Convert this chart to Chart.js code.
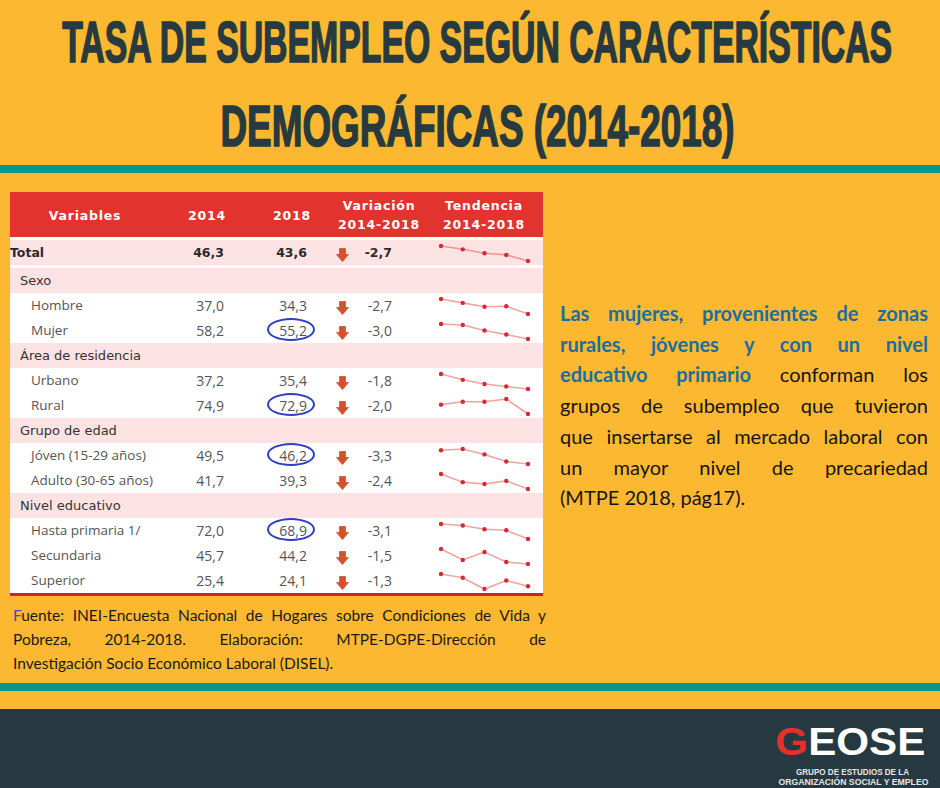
<!DOCTYPE html>
<html lang="es">
<head>
<meta charset="utf-8">
<title>Tasa de subempleo según características demográficas (2014-2018)</title>
<script src="https://cdn.jsdelivr.net/npm/chart.js@4.4.1/dist/chart.umd.min.js"></script>
<style>
  html, body { margin: 0; padding: 0; }
  body { width: 940px; height: 788px; position: relative; overflow: hidden; background: #fcb830; font-family: Lato, "Open Sans", sans-serif; }
  .abs { position: absolute; }
  .titulo { left: -993px; width: 2940px; text-align: center; font-family: "Liberation Sans Narrow", "Liberation Sans", sans-serif; font-weight: bold; font-size: 58px; line-height: 59px; color: #263a40; -webkit-text-stroke: 1.6px #263a40; white-space: nowrap; }
  .titulo span { display: inline-block; transform-origin: 50% 50%; }
  .barra { left: 0; width: 940px; height: 8px; background: #05968d; }
  #tabla { left: 10px; top: 192px; width: 533px; height: 404px; background: #fff; }
  .cab { color: #fff; font-family: "DejaVu Sans", sans-serif; font-weight: bold; font-size: 12.5px; letter-spacing: 0.8px; text-align: center; line-height: 19px; white-space: nowrap; }
  .fila { left: 0; width: 533px; height: 25px; }
  .rosa { background: #fde3e3; }
  .txt { line-height: 25px; white-space: nowrap; color: #444; }
  .grupo { font-family: "DejaVu Sans", sans-serif; font-size: 13px; color: #333; }
  .sub { font-family: "Open Sans", sans-serif; font-size: 13.5px; color: #555; }
  .num { font-family: "Open Sans", sans-serif; font-size: 14px; color: #555; text-align: right; width: 60px; }
  .total { font-family: "DejaVu Sans", sans-serif; font-weight: bold; font-size: 12.5px; color: #2a2a2a; }
  .circulo { width: 44px; height: 19px; border: 2.8px solid #2e3fc4; border-radius: 50%; }
  #texto { left: 560px; top: 298px; width: 368px; font-size: 20px; line-height: 30.7px; color: #141414; }
  #texto div, #fuente div { text-align: justify; text-align-last: justify; }
  #texto div.ult, #fuente div.ult { text-align-last: left; }
  #texto b { color: #1b6e9e; }
  #fuente { left: 13px; top: 603px; width: 533px; font-size: 15.5px; line-height: 24px; color: #1a1a1a; }
  #fuente .f { color: #3552a8; }
  #pie { left: 0; top: 709px; width: 940px; height: 79px; background: #263840; }
  .logo { font-family: "Liberation Sans", sans-serif; font-weight: bold; color: #fff; white-space: nowrap; text-align: center; }
  .logo span { display: inline-block; transform-origin: 50% 50%; }
</style>
</head>
<body>
<div class="abs titulo" style="top:12px"><span id="t1">TASA DE SUBEMPLEO SEGÚN CARACTERÍSTICAS</span></div>
<div class="abs titulo" style="top:96px"><span id="t2">DEMOGRÁFICAS (2014-2018)</span></div>
<div class="abs barra" style="top:165px"></div>

<div class="abs" id="tabla"></div>

<div class="abs" id="fuente">
  <div><span class="f">F</span>uente: INEI-Encuesta Nacional de Hogares sobre Condiciones de Vida y</div>
  <div>Pobreza, 2014-2018. Elaboración: MTPE-DGPE-Dirección de</div>
  <div class="ult">Investigación Socio Económico Laboral (DISEL).</div>
</div>

<div class="abs" id="texto">
  <div><b>Las mujeres, provenientes de zonas</b></div>
  <div><b>rurales, jóvenes y con un nivel</b></div>
  <div><b>educativo primario</b> conforman los</div>
  <div>grupos de subempleo que tuvieron</div>
  <div>que insertarse al mercado laboral con</div>
  <div>un mayor nivel de precariedad</div>
  <div class="ult">(MTPE 2018, pág17).</div>
</div>

<div class="abs barra" style="top:683px"></div>
<div class="abs" id="pie"></div>
<div class="abs logo" style="left:775px; top:722px; width:150px; font-size:39px; line-height:39px;"><span id="lg"><span style="color:#e5302a">G</span>EOSE</span></div>
<div class="abs logo" style="left:778px; top:767px; width:150px; font-size:8.5px; line-height:11px; color:#e6e6e6;"><span id="l1">GRUPO DE ESTUDIOS DE LA</span></div>
<div class="abs logo" style="left:778px; top:777px; width:150px; font-size:8.5px; line-height:11px; color:#e6e6e6;"><span id="l2">ORGANIZACIÓN SOCIAL Y EMPLEO</span></div>

<script>
const anios = ['2014', '2015', '2016', '2017', '2018'];
const grupos = ['Sexo', 'Área de residencia', 'Grupo de edad', 'Nivel educativo'];
const categorias = ['Total', 'Hombre', 'Mujer', 'Urbano', 'Rural', 'Jóven (15-29 años)', 'Adulto (30-65 años)', 'Hasta primaria 1/', 'Secundaria', 'Superior'];
const grupoDe = [-1, 0, 0, 1, 1, 2, 2, 3, 3, 3];
const tasa2014 = [46.3, 37.0, 58.2, 37.2, 74.9, 49.5, 41.7, 72.0, 45.7, 25.4];
const tasa2018 = [43.6, 34.3, 55.2, 35.4, 72.9, 46.2, 39.3, 68.9, 44.2, 24.1];
const variacion = [-2.7, -2.7, -3.0, -1.8, -2.0, -3.3, -2.4, -3.1, -1.5, -1.3];
const destacados = ['Mujer', 'Rural', 'Jóven (15-29 años)', 'Hasta primaria 1/'];

const tendTotal = [46.3, 45.7, 45.0, 44.7, 43.6];
const tendHombre = [37.0, 36.3, 35.6, 35.7, 34.3];
const tendMujer = [58.2, 58.0, 56.9, 56.1, 55.2];
const tendUrbano = [37.2, 36.5, 36.0, 35.7, 35.4];
const tendRural = [74.9, 75.5, 75.5, 76.1, 72.9];
const tendJoven = [49.5, 49.8, 48.5, 46.8, 46.2];
const tendAdulto = [41.7, 40.4, 40.1, 40.6, 39.3];
const tendPrimaria = [72.0, 71.7, 70.9, 70.7, 68.9];
const tendSecundaria = [45.7, 44.6, 45.4, 44.4, 44.2];
const tendSuperior = [25.4, 25.0, 23.8, 24.7, 24.1];
const tendencias = [tendTotal, tendHombre, tendMujer, tendUrbano, tendRural, tendJoven, tendAdulto, tendPrimaria, tendSecundaria, tendSuperior];

const tabla = document.getElementById('tabla');
const fmt = v => v.toFixed(1).replace('.', ',');

function add(cls, style, html) {
  const d = document.createElement('div');
  d.className = 'abs ' + cls;
  d.style.cssText = style;
  if (html !== undefined) d.innerHTML = html;
  tabla.appendChild(d);
  return d;
}

function flecha(top) {
  add('', `left:326px; top:${top + 6}px; width:13px; height:14px;`,
    '<svg width="13" height="14" viewBox="0 0 13 14"><path d="M3.5 0.5 H9.5 V6.5 H12.5 L6.5 13.5 L0.5 6.5 H3.5 Z" fill="#d4512b" stroke="#d4512b" stroke-width="0.8" stroke-linejoin="round"/></svg>');
}

function sparkline(serie, top) {
  const c = document.createElement('canvas');
  c.width = 97; c.height = 25;
  c.className = 'abs';
  c.style.cssText = `left:426px; top:${top}px;`;
  tabla.appendChild(c);
  new Chart(c, {
    type: 'line',
    data: {
      labels: anios,
      datasets: [{
        data: serie,
        borderColor: 'rgba(226, 74, 74, 0.5)',
        borderWidth: 1.6,
        pointRadius: 2.2,
        pointBackgroundColor: '#d42a30',
        pointBorderWidth: 0,
        tension: 0,
        clip: false
      }]
    },
    options: {
      responsive: false,
      animation: false,
      events: [],
      layout: { padding: { left: 5, right: 5, top: 6, bottom: 4 } },
      plugins: { legend: { display: false }, tooltip: { enabled: false } },
      scales: {
        x: { display: false },
        y: { display: false, min: Math.min(...serie), max: Math.max(...serie) }
      }
    }
  });
}

// cabecera
add('', 'left:0; top:0; width:533px; height:45px; background:#e2332f;');
add('cab', 'left:25px; top:14px; width:100px;', 'Variables');
add('cab', 'left:167px; top:14px; width:60px;', anios[0]);
add('cab', 'left:252px; top:14px; width:60px;', anios[4]);
add('cab', 'left:314px; top:4px; width:110px;', 'Variación<br>2014-2018');
add('cab', 'left:419px; top:4px; width:110px;', 'Tendencia<br>2014-2018');

// filas
let y = 48;
let grupoActual = -1;
categorias.forEach((cat, i) => {
  if (grupoDe[i] !== grupoActual) {
    grupoActual = grupoDe[i];
    add('fila rosa', `top:${y}px;`);
    add('txt grupo', `left:10px; top:${y}px;`, grupos[grupoActual]);
    y += 25;
  }
  const esTotal = i === 0;
  if (esTotal) add('fila rosa', `top:${y}px;`);
  add('txt ' + (esTotal ? 'total' : 'sub'), `left:${esTotal ? 0 : 21}px; top:${y}px;`, cat);
  const cn = esTotal ? 'txt num total' : 'txt num';
  add(cn, `left:154px; top:${y}px;`, fmt(tasa2014[i]));
  add(cn, `left:237px; top:${y}px;`, fmt(tasa2018[i]));
  add(cn, `left:322px; top:${y}px;`, fmt(variacion[i]));
  flecha(y);
  if (destacados.includes(cat)) {
    add('circulo', `left:257px; top:${y}px;`);
  }
  sparkline(tendencias[i], y);
  y += esTotal ? 28 : 25;
});
add('', `left:0; top:${y}px; width:533px; height:3px; background:#c9252b;`);

function ajustar(id, ancho) {
  const el = document.getElementById(id);
  const w = el.getBoundingClientRect().width;
  el.style.transform = `scaleX(${ancho / w})`;
}
ajustar('t1', 830);
ajustar('t2', 514);
ajustar('lg', 150);
ajustar('l1', 113);
ajustar('l2', 150);
</script>
</body>
</html>
